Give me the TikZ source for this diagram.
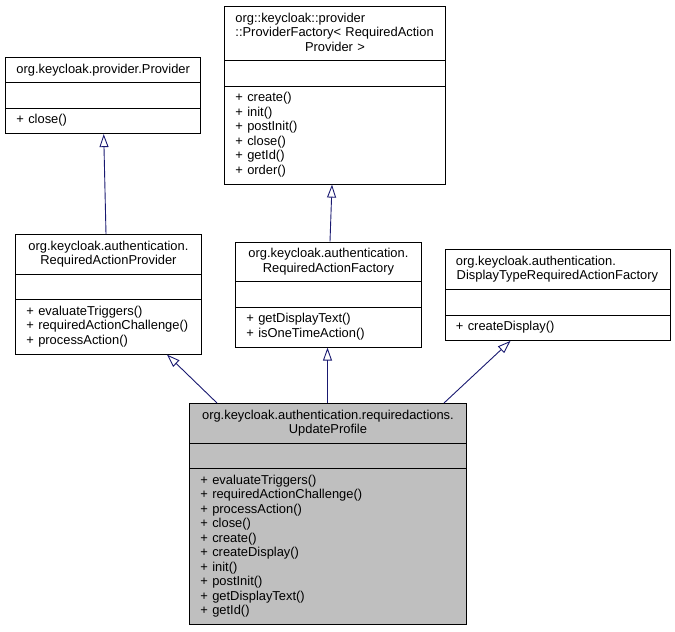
\documentclass[tikz,border=0pt]{standalone}
\usepackage[svgnames]{xcolor}
\usepackage{fontspec}
\setmainfont{Liberation Sans}
\usepackage{tikz}
\usetikzlibrary{shapes, arrows.meta}
\setlength{\parindent}{0pt}
\newcommand{\classfont}{\fontsize{12.9}{14.5}\selectfont}
\tikzstyle{cls} = [rectangle split, rectangle split parts=3, draw=black, line width=0.9pt, fill=white, anchor=north west, inner xsep=11pt, inner ysep=5pt, font=\classfont]
\tikzstyle{focus} = [fill=gray!50]
\tikzstyle{inherit} = [draw=MidnightBlue, line width=0.9pt, -{Triangle[open, length=13pt, width=9pt]}]

\begin{document}
\begin{tikzpicture}[x=1pt, y=-1pt]
            \useasboundingbox (0,0) rectangle (675,632);
            % base interfaces
            \node[cls, text width=173pt] (provider) at (5,57)
                {\centering\strut org.keycloak.provider.Provider\strut\par
                 \nodepart{two}\strut
                 \nodepart{three}\raggedright\strut + close()\strut\par};
            \node[cls, text width=199pt] (pfactory) at (224,6)
                {{\raggedright\strut org::keycloak::provider\\ ::ProviderFactory< RequiredAction\par}{\centering Provider >\strut\par}
                 \nodepart{two}\strut
                 \nodepart{three}\raggedright\strut + create()\\ + init()\\ + postInit()\\ + close()\\ + getId()\\ + order()\strut\par};
            % middle row
            \node[cls, text width=164pt] (raprov) at (15,234)
                {\centering\strut org.keycloak.authentication.\\ RequiredActionProvider\strut\par
                 \nodepart{two}\strut
                 \nodepart{three}\raggedright\strut + evaluateTriggers()\\ + requiredActionChallenge()\\ + processAction()\strut\par};
            \node[cls, text width=164pt] (rafact) at (235,241.5)
                {\centering\strut org.keycloak.authentication.\\ RequiredActionFactory\strut\par
                 \nodepart{two}\strut
                 \nodepart{three}\raggedright\strut + getDisplayText()\\ + isOneTimeAction()\strut\par};
            \node[cls, text width=203pt] (dtfact) at (444.5,249.3)
                {{\raggedright\strut org.keycloak.authentication.\par}{\centering DisplayTypeRequiredActionFactory\strut\par}
                 \nodepart{two}\strut
                 \nodepart{three}\raggedright\strut + createDisplay()\strut\par};
            % the class itself
            \node[cls, focus, text width=255pt] (update) at (189,403)
                {\centering\strut org.keycloak.authentication.requiredactions.\\ UpdateProfile\strut\par
                 \nodepart{two}\strut
                 \nodepart{three}\raggedright\strut + evaluateTriggers()\\ + requiredActionChallenge()\\ + processAction()\\ + close()\\ + create()\\ + createDisplay()\\ + init()\\ + postInit()\\ + getDisplayText()\\ + getId()\strut\par};

            \draw[inherit] ([xshift=91pt]raprov.north west) -- ([xshift=98.7pt]provider.south west);
            \draw[inherit] ([xshift=95pt]rafact.north west) -- ([xshift=108pt]pfactory.south west);
            \draw[inherit] ([xshift=28pt]update.north west) -- ([xshift=152pt]raprov.south west);
            \draw[inherit] ([xshift=138.5pt]update.north west) -- ([xshift=92.5pt]rafact.south west);
            \draw[inherit] ([xshift=255pt]update.north west) -- ([xshift=66pt]dtfact.south west);
\end{tikzpicture}
\end{document}
